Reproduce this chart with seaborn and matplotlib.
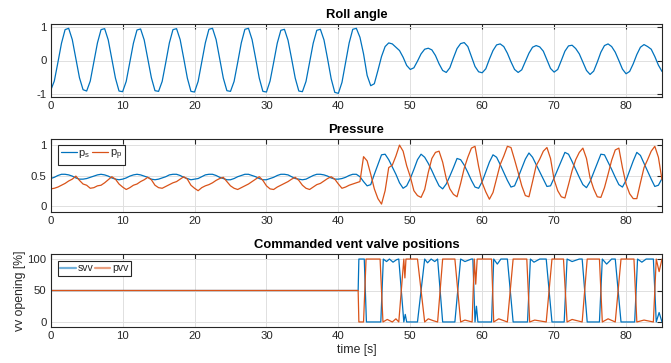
import numpy as np
import pandas as pd
import matplotlib
matplotlib.use("Agg")
import matplotlib.pyplot as plt
from matplotlib.lines import Line2D
import seaborn as sns

# ---------------- data ----------------
time_s = np.arange(0, 85.01, 0.5)

roll_angle = [
    -0.90, -0.62, -0.06, 0.52, 0.93, 0.97, 0.63, 0.06, -0.52, -0.88,
    -0.92, -0.62, -0.05, 0.53, 0.93, 0.96, 0.62, 0.05, -0.53, -0.92,
    -0.94, -0.63, -0.06, 0.52, 0.92, 0.95, 0.62, 0.05, -0.52, -0.91,
    -0.93, -0.63, -0.06, 0.53, 0.93, 0.96, 0.63, 0.06, -0.53, -0.93,
    -0.95, -0.63, -0.05, 0.53, 0.94, 0.97, 0.63, 0.05, -0.53, -0.91,
    -0.93, -0.63, -0.06, 0.53, 0.94, 0.97, 0.63, 0.06, -0.53, -0.93,
    -0.95, -0.62, -0.06, 0.52, 0.91, 0.94, 0.61, 0.05, -0.53, -0.92,
    -0.94, -0.63, -0.06, 0.52, 0.91, 0.94, 0.62, 0.05, -0.55, -0.96,
    -0.99, -0.66, -0.07, 0.53, 0.94, 0.97, 0.70, 0.20, -0.45, -0.76,
    -0.70, -0.30, 0.12, 0.42, 0.53, 0.50, 0.40, 0.30, 0.10, -0.15,
    -0.27, -0.22, -0.02, 0.20, 0.34, 0.37, 0.32, 0.15, -0.10, -0.30,
    -0.36, -0.22, 0.08, 0.36, 0.51, 0.54, 0.42, 0.12, -0.18, -0.34,
    -0.37, -0.25, 0.04, 0.30, 0.47, 0.50, 0.42, 0.22, -0.04, -0.27,
    -0.36, -0.28, -0.03, 0.22, 0.40, 0.45, 0.41, 0.28, 0.02, -0.24,
    -0.35, -0.27, 0.00, 0.28, 0.44, 0.46, 0.36, 0.20, -0.05, -0.30,
    -0.42, -0.32, -0.05, 0.25, 0.45, 0.50, 0.42, 0.25, 0.00, -0.26,
    -0.40, -0.33, -0.10, 0.18, 0.40, 0.48, 0.42, 0.34, 0.12, -0.14,
    -0.33,
]

p_s = [
    0.45, 0.47, 0.50, 0.52, 0.52, 0.51, 0.49, 0.46, 0.44, 0.44,
    0.45, 0.47, 0.49, 0.51, 0.52, 0.51, 0.49, 0.46, 0.44, 0.43,
    0.44, 0.46, 0.49, 0.51, 0.52, 0.51, 0.49, 0.47, 0.44, 0.43,
    0.44, 0.46, 0.48, 0.51, 0.52, 0.52, 0.50, 0.47, 0.45, 0.43,
    0.44, 0.45, 0.48, 0.51, 0.52, 0.52, 0.50, 0.47, 0.45, 0.43,
    0.43, 0.45, 0.48, 0.50, 0.52, 0.52, 0.50, 0.48, 0.45, 0.43,
    0.43, 0.45, 0.47, 0.50, 0.52, 0.52, 0.51, 0.48, 0.45, 0.44,
    0.43, 0.44, 0.47, 0.50, 0.52, 0.52, 0.51, 0.49, 0.46, 0.44,
    0.44, 0.45, 0.47, 0.50, 0.52, 0.52, 0.48, 0.40, 0.33, 0.35,
    0.52, 0.68, 0.84, 0.85, 0.76, 0.64, 0.52, 0.38, 0.29, 0.33,
    0.45, 0.60, 0.76, 0.85, 0.80, 0.70, 0.58, 0.45, 0.33, 0.28,
    0.36, 0.49, 0.63, 0.78, 0.76, 0.67, 0.55, 0.42, 0.31, 0.29,
    0.40, 0.56, 0.72, 0.84, 0.80, 0.68, 0.55, 0.42, 0.31, 0.33,
    0.47, 0.62, 0.77, 0.87, 0.80, 0.68, 0.56, 0.44, 0.32, 0.33,
    0.46, 0.60, 0.74, 0.88, 0.85, 0.73, 0.60, 0.47, 0.35, 0.30,
    0.40, 0.55, 0.70, 0.85, 0.84, 0.72, 0.60, 0.47, 0.35, 0.31,
    0.42, 0.58, 0.74, 0.88, 0.83, 0.70, 0.57, 0.44, 0.32, 0.34,
    0.45,
]

p_p = [
    0.28, 0.29, 0.31, 0.34, 0.37, 0.41, 0.44, 0.49, 0.42, 0.36,
    0.34, 0.29, 0.30, 0.33, 0.34, 0.38, 0.43, 0.48, 0.44, 0.36,
    0.31, 0.27, 0.30, 0.34, 0.36, 0.40, 0.43, 0.47, 0.43, 0.34,
    0.30, 0.29, 0.32, 0.35, 0.38, 0.40, 0.44, 0.48, 0.44, 0.34,
    0.29, 0.25, 0.30, 0.33, 0.35, 0.38, 0.42, 0.45, 0.47, 0.40,
    0.33, 0.29, 0.27, 0.30, 0.33, 0.36, 0.40, 0.44, 0.48, 0.42,
    0.33, 0.28, 0.27, 0.31, 0.34, 0.37, 0.40, 0.44, 0.47, 0.42,
    0.34, 0.29, 0.27, 0.31, 0.35, 0.37, 0.41, 0.45, 0.48, 0.44,
    0.36, 0.29, 0.31, 0.34, 0.36, 0.38, 0.40, 0.81, 0.74, 0.52,
    0.28, 0.12, 0.03, 0.25, 0.63, 0.67, 0.82, 1.00, 0.90, 0.66,
    0.48, 0.25, 0.17, 0.14, 0.27, 0.55, 0.78, 0.88, 0.90, 0.72,
    0.45, 0.28, 0.19, 0.15, 0.37, 0.62, 0.80, 0.95, 0.98, 0.65,
    0.38, 0.23, 0.11, 0.22, 0.45, 0.68, 0.82, 0.98, 0.96, 0.76,
    0.55, 0.33, 0.17, 0.15, 0.40, 0.66, 0.77, 0.90, 0.96, 0.78,
    0.43, 0.25, 0.15, 0.13, 0.35, 0.58, 0.76, 0.88, 0.95, 0.78,
    0.46, 0.28, 0.15, 0.14, 0.30, 0.52, 0.75, 0.92, 0.95, 0.63,
    0.36, 0.20, 0.12, 0.12, 0.38, 0.63, 0.76, 0.90, 0.98, 0.80,
    0.43,
]

svv_t = [0, 42.75, 42.85, 43.6, 43.9, 45.9, 46.25, 46.7, 47.1, 47.6, 48.1, 48.4, 49.1, 49.3, 49.5,
         51.0, 52.0, 52.4, 52.9, 53.4, 53.8, 54.5, 56.2, 57.0, 57.6, 58.5, 58.7, 59.0, 59.2, 59.4,
         61.3, 61.6, 62.1, 62.6, 63.5, 64.3, 66.3, 66.7, 67.2, 68.0, 68.9, 69.7, 71.4, 71.8, 72.5,
         73.5, 73.9, 74.6, 76.3, 76.7, 77.3, 78.0, 78.5, 79.3, 81.2, 81.6, 82.2, 82.8, 83.8, 84.2, 84.6, 85]
svv_v = [50, 50, 100, 100, 0, 0, 100, 96, 100, 95, 99, 100, 0, 12, 0,
         0, 100, 94, 100, 96, 100, 0, 0, 100, 96, 100, 100, 0, 25, 0,
         0, 100, 92, 100, 100, 0, 0, 100, 95, 100, 100, 0, 0, 100, 96,
         100, 100, 0, 0, 100, 92, 100, 100, 0, 0, 100, 95, 100, 100, 0, 15, 0]

pvv_t = [0, 42.75, 42.85, 43.5, 43.85, 45.8, 46.2, 46.8, 47.5, 48.0, 48.4, 49.1, 49.25, 49.4,
         51.0, 52.0, 52.5, 53.2, 53.8, 54.5, 56.2, 57.0, 57.6, 58.6, 58.9, 59.1, 59.3,
         61.3, 61.6, 62.3, 63.5, 64.3, 66.2, 66.6, 67.3, 68.9, 69.7, 71.3, 71.8, 72.5,
         73.9, 74.6, 76.3, 76.7, 77.5, 78.5, 79.3, 81.1, 81.5, 82.5, 83.8, 84.2, 84.6, 85]
pvv_v = [50, 50, 0, 0, 100, 100, 0, 4, 0, 5, 0, 100, 70, 100,
         100, 0, 5, 2, 0, 100, 100, 0, 3, 0, 100, 60, 100,
         100, 0, 5, 0, 100, 100, 0, 3, 0, 100, 100, 0, 4,
         0, 100, 100, 0, 5, 0, 100, 100, 0, 3, 0, 100, 80, 100]

# ---------------- style ----------------
sns.set_theme(style="white")
plt.rcParams['font.family'] = ['Liberation Sans', 'DejaVu Sans']
plt.rcParams['mathtext.fontset'] = 'custom'
plt.rcParams['mathtext.rm'] = 'Liberation Sans'
plt.rcParams['mathtext.it'] = 'Liberation Sans'

BLUE = '#0072BD'
ORANGE = '#D95319'
TXT = '#262626'
LW = 0.9

fig = plt.figure(figsize=(6.71, 3.63), dpi=100)
W, H = 671, 363
left, right = 50.7, 662
rects = [(24, 97), (139, 212), (254, 327)]
axes = [fig.add_axes([left / W, 1 - b / H, (right - left) / W, (b - t) / H]) for t, b in rects]

def style(ax, ylim, yticks, yticklabels):
    ax.set_xlim(0, 85)
    ax.set_ylim(*ylim)
    ax.set_xticks(range(0, 81, 10))
    ax.set_yticks(yticks)
    ax.set_yticklabels(yticklabels)
    ax.grid(True, color='#e0e0e0', linewidth=0.7)
    ax.set_axisbelow(True)
    ax.tick_params(direction='in', length=3.5, width=0.8, colors=TXT, labelsize=8.2,
                   top=True, right=True, pad=3)
    for s in ax.spines.values():
        s.set_color(TXT)
        s.set_linewidth(0.8)
    ax.set_xlabel('')
    ax.set_ylabel('')

TITLE_FS = 9.4

# Roll angle
ax1 = axes[0]
sns.lineplot(x=time_s, y=roll_angle, ax=ax1, color=BLUE, linewidth=LW)
style(ax1, (-1.1, 1.1), [-1, 0, 1], ['-1', '0', '1'])
ax1.set_title('Roll angle', fontweight='bold', fontsize=TITLE_FS, pad=4, color='black')

# Pressure
ax2 = axes[1]
sns.lineplot(x=time_s, y=p_s, ax=ax2, color=BLUE, linewidth=LW)
sns.lineplot(x=time_s, y=p_p, ax=ax2, color=ORANGE, linewidth=LW)
style(ax2, (-0.1, 1.1), [0, 0.5, 1], ['0', '0.5', '1'])
ax2.set_title('Pressure', fontweight='bold', fontsize=TITLE_FS, pad=4, color='black')
h2 = [Line2D([], [], color=BLUE, lw=LW), Line2D([], [], color=ORANGE, lw=LW)]
leg2 = ax2.legend(h2, [r'$\mathregular{p_s}$', r'$\mathregular{p_p}$'], loc='upper left',
                  bbox_to_anchor=(0.0115, 0.918), borderaxespad=0, ncol=2, fontsize=8.0,
                  handlelength=1.45, handletextpad=0.15, columnspacing=0.2, borderpad=0.25,
                  fancybox=False, framealpha=1, edgecolor=TXT)
leg2.get_frame().set_linewidth(0.8)

# Valves
ax3 = axes[2]
sns.lineplot(x=svv_t, y=svv_v, ax=ax3, color=BLUE, linewidth=LW)
sns.lineplot(x=pvv_t, y=pvv_v, ax=ax3, color=ORANGE, linewidth=LW)
style(ax3, (-8, 108), [0, 50, 100], ['0', '50', '100'])
ax3.set_title('Commanded vent valve positions', fontweight='bold', fontsize=TITLE_FS, pad=4, color='black')
ax3.set_xlabel('time [s]', fontsize=8.8, color=TXT, labelpad=2)
ax3.set_ylabel('vv opening [%]', fontsize=8.8, color=TXT, labelpad=1)
h3 = [Line2D([], [], color=BLUE, lw=1.6, alpha=0.55), Line2D([], [], color=ORANGE, lw=1.6, alpha=0.55)]
leg3 = ax3.legend(h3, ['svv', 'pvv'], loc='upper left',
                  bbox_to_anchor=(0.0115, 0.908), borderaxespad=0, ncol=2, fontsize=7.6,
                  handlelength=1.45, handletextpad=0.15, columnspacing=0.2, borderpad=0.25,
                  fancybox=False, framealpha=1, edgecolor=TXT)
leg3.get_frame().set_linewidth(0.8)

fig.savefig('out.png', dpi=100)
